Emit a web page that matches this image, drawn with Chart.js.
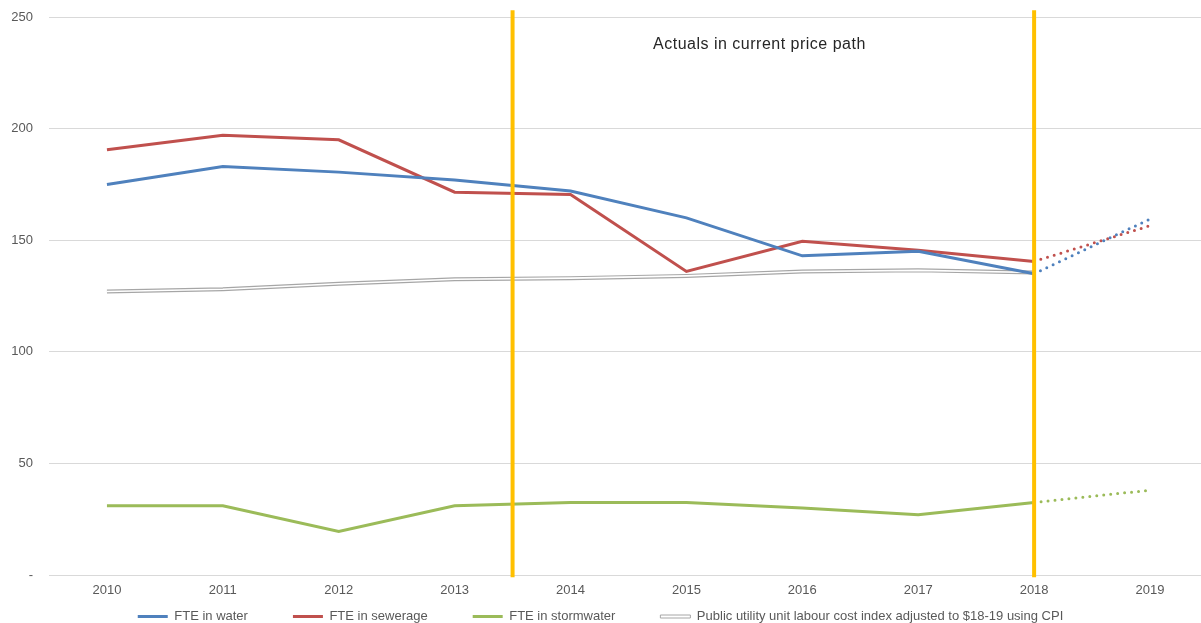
<!DOCTYPE html>
<html>
<head>
    <meta charset="utf-8"/>
    <title>FTE</title>
    <style>
        body { margin: 0; background: #fff; }
        #chart-box { width: 1201px; height: 623px; }
    </style>
    <script src="https://cdn.jsdelivr.net/npm/chart.js@4/dist/chart.umd.min.js"></script>
</head>
<body>
<div id="chart-box"><canvas id="chart" width="1201" height="623"></canvas></div>
<script>
    // years on the x axis
    const years = [2010, 2011, 2012, 2013, 2014, 2015, 2016, 2017, 2018, 2019];

    const fteWater = [175, 183, 180.5, 177, 172, 160, 143, 145, 135, 159.5];
    const fteSewerage = [190.5, 197, 195, 171.5, 170.5, 136, 149.5, 145.5, 140.5, 156.5];
    const fteStormwater = [31, 31, 19.5, 31, 32.5, 32.5, 30, 27, 32.5, 38];
    // index only runs to 2018
    const labourIndex = [127, 128, 130.5, 132.5, 133, 134, 136, 136.5, 135.5, null];

    const yTicks = [0, 50, 100, 150, 200, 250];
    const markerYears = [2013.5, 2018];
    const noteText = 'Actuals in current price path';

    const projectedFrom = years.indexOf(2018);
    const FONT = '"Liberation Sans", Arial, sans-serif';
    const LEGEND_GAP = 45;

    const toPoints = (values) => values.map((v, i) => ({ x: years[i], y: v }));

    // dotted segment after the last actual year
    const dotted = {
        borderDash: (ctx) => ctx.p0DataIndex >= projectedFrom ? [0, 7] : undefined,
        borderCapStyle: (ctx) => ctx.p0DataIndex >= projectedFrom ? 'round' : 'butt',
    };

    function series(label, values, color) {
        return {
            label: label,
            data: toPoints(values),
            borderColor: color,
            backgroundColor: color,
            borderWidth: 3,
            pointRadius: 0,
            tension: 0,
            segment: dotted,
        };
    }

    // yellow period markers + the note text
    const markers = {
        id: 'markers',
        afterDatasetsDraw(chart) {
            const ctx = chart.ctx;
            const x = chart.scales.x;
            const y = chart.scales.y;
            ctx.save();
            ctx.strokeStyle = '#FFC000';
            ctx.lineWidth = 4;
            markerYears.forEach((yr) => {
                const px = x.getPixelForValue(yr);
                ctx.beginPath();
                ctx.moveTo(px, y.getPixelForValue(253));
                ctx.lineTo(px, y.getPixelForValue(-1));
                ctx.stroke();
            });
            ctx.fillStyle = '#262626';
            ctx.font = '16px ' + FONT;
            ctx.letterSpacing = '0.5px';
            ctx.textAlign = 'center';
            ctx.textBaseline = 'middle';
            ctx.fillText(noteText, x.getPixelForValue(2015.63), y.getPixelForValue(237.5));
            ctx.restore();
        }
    };

    // legend keeps wide gaps between items but only a thin strip of height:
    // pull its top up so the items land inside the canvas
    const legendStrip = {
        id: 'legendStrip',
        afterLayout(chart) {
            chart.legend.top -= LEGEND_GAP - 11;
        }
    };

    const chart_config = {
        type: 'line',
        data: {
            datasets: [
                series('FTE in water', fteWater, '#4F81BD'),
                series('FTE in sewerage', fteSewerage, '#C0504D'),
                series('FTE in stormwater', fteStormwater, '#9BBB59'),
                {
                    label: 'Public utility unit labour cost index adjusted to $18-19 using CPI',
                    data: toPoints(labourIndex),
                    borderColor: '#A6A6A6',
                    backgroundColor: '#ffffff',
                    borderWidth: 4,
                    pointRadius: 0,
                    order: 2,
                },
                {
                    // white core of the double line
                    label: '_core',
                    data: toPoints(labourIndex),
                    borderColor: '#ffffff',
                    borderWidth: 1.6,
                    pointRadius: 0,
                    order: 1,
                },
            ],
        },
        options: {
            responsive: false,
            animation: false,
            layout: { padding: { top: 17, right: 0, left: 0, bottom: 0 } },
            plugins: {
                tooltip: { enabled: false },
                legend: {
                    position: 'bottom',
                    maxHeight: 24,
                    labels: {
                        boxWidth: 30,
                        boxHeight: 3,
                        padding: LEGEND_GAP,
                        color: '#595959',
                        font: { family: FONT, size: 13 },
                        filter: (item) => item.text !== '_core',
                        generateLabels(chart) {
                            const items = Chart.defaults.plugins.legend.labels.generateLabels(chart);
                            items.forEach((it) => {
                                if (it.datasetIndex === 3) {
                                    it.fillStyle = '#ffffff';
                                    it.strokeStyle = '#A6A6A6';
                                    it.lineWidth = 1;
                                } else {
                                    it.lineWidth = 0;
                                }
                            });
                            return items;
                        },
                    },
                },
            },
            scales: {
                x: {
                    type: 'linear',
                    min: 2009.5,
                    max: 2019.44,
                    afterBuildTicks: (scale) => { scale.ticks = years.map((v) => ({ value: v })); },
                    afterFit: (scale) => { scale.height = 24; },
                    grid: { display: false, drawTicks: false },
                    border: { display: false },
                    ticks: {
                        color: '#595959',
                        font: { family: FONT, size: 13 },
                        padding: 8,
                        maxRotation: 0,
                        callback: (v) => String(v),
                    },
                },
                y: {
                    min: 0,
                    max: 250,
                    afterBuildTicks: (scale) => { scale.ticks = yTicks.map((v) => ({ value: v })); },
                    afterFit: (scale) => { scale.width = 49; },
                    grid: { color: '#D9D9D9', tickLength: 14, tickColor: 'rgba(0,0,0,0)' },
                    border: { display: false },
                    ticks: {
                        color: '#595959',
                        font: { family: FONT, size: 13 },
                        padding: 2,
                        callback: (v) => v === 0 ? '-' : String(v),
                    },
                },
            },
        },
        plugins: [markers, legendStrip],
    };

    new Chart(document.getElementById('chart').getContext('2d'), chart_config);
</script>
</body>
</html>
